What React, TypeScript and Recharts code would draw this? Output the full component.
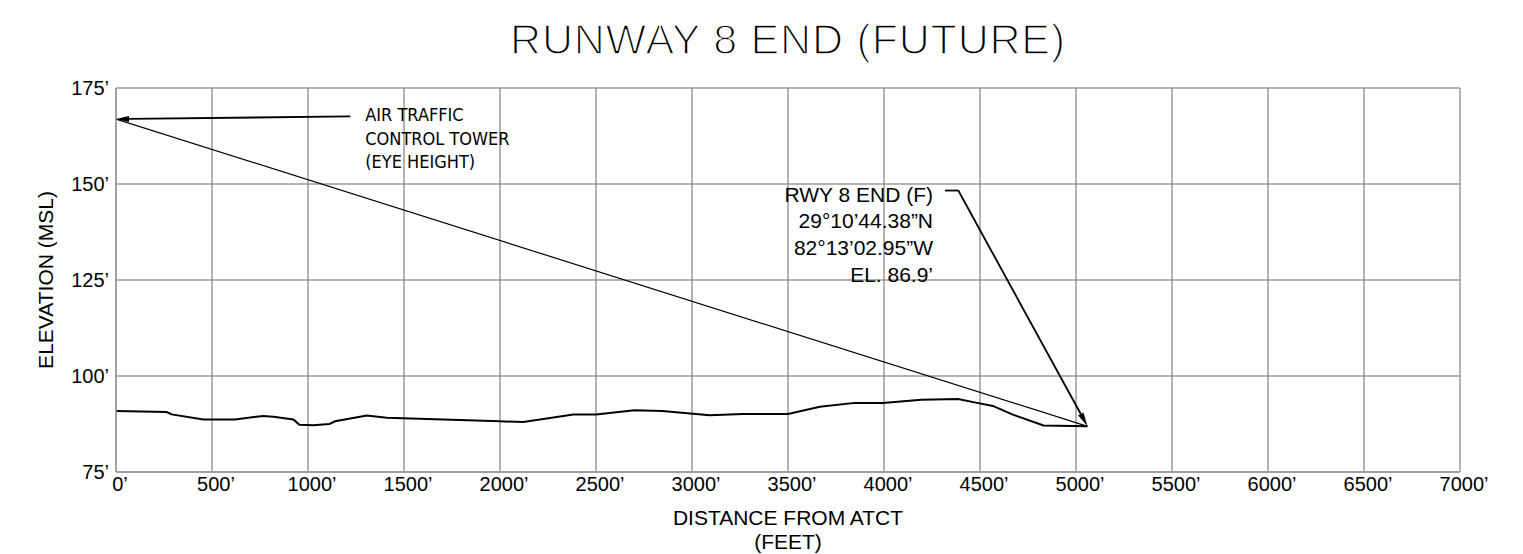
import { LineChart, Line, XAxis, YAxis, CartesianGrid, ReferenceLine, ReferenceDot } from 'recharts';

// Distance from ATCT (ft) and ground elevation (ft MSL) along the sight line
const distanceFt = [0, 264, 290, 455, 620, 767, 820, 924, 955, 1028, 1111, 1141, 1306, 1410, 2000, 2121, 2382, 2500, 2700, 2846, 3092, 3265, 3500, 3666, 3848, 3994, 4194, 4385, 4485, 4567, 4668, 4831, 5060];
const groundElev = [90.9, 90.6, 90.0, 88.7, 88.7, 89.6, 89.4, 88.7, 87.3, 87.2, 87.5, 88.2, 89.7, 89.1, 88.2, 88.0, 90.0, 90.0, 91.1, 90.9, 89.8, 90.1, 90.1, 92.0, 93.0, 93.0, 93.8, 94.0, 93.0, 92.2, 90.0, 87.1, 86.9];

// line of sight: tower eye height -> runway end
const sightDist = [0, 5060];
const sightElev = [166.9, 86.9];

const xTicks = [0, 500, 1000, 1500, 2000, 2500, 3000, 3500, 4000, 4500, 5000, 5500, 6000, 6500, 7000];
const yTicks = [75, 100, 125, 150, 175];

const towerLabel = ['AIR TRAFFIC', 'CONTROL TOWER', '(EYE HEIGHT)'];
const rwyLabel = ['RWY 8 END (F)', '29°10’44.38”N', '82°13’02.95”W', 'EL. 86.9’'];

// leader arrows (data coords)
const towerArrowFrom = { x: 1220, y: 167.6 };
const towerArrowTo = { x: 0, y: 166.9 };
const rwyLeaderFrom = { x: 4318, y: 148.3 };
const rwyLeaderBend = { x: 4387, y: 148.3 };
const rwyArrowTo = { x: 5060, y: 86.9 };

const FONT = '"Liberation Sans", Arial, sans-serif';
const NARROW = '"Liberation Sans Narrow", "DejaVu Sans Condensed", sans-serif';
const GRID = '#9a9a9a';

const ground = distanceFt.map((d, i) => ({ x: d, y: groundElev[i] }));
const sight = sightDist.map((d, i) => ({ x: d, y: sightElev[i] }));

const XTick = ({ x, y, payload }: any) => (
  <text x={x + 4} y={y + 19} textAnchor="middle" fontSize={20} fontFamily={FONT} fill="#000">
    {payload.value}’
  </text>
);

const YTick = ({ x, y, payload }: any) => (
  <text x={x - 7} y={y + 7} textAnchor="end" fontSize={20} fontFamily={FONT} fill="#000">
    {payload.value}’
  </text>
);

const arrow = (len: number, half: number, width: number) => (p: any) => {
  const { x1, y1, x2, y2 } = p;
  const a = Math.atan2(y2 - y1, x2 - x1);
  const bx = x2 - len * Math.cos(a);
  const by = y2 - len * Math.sin(a);
  const nx = -Math.sin(a) * half;
  const ny = Math.cos(a) * half;
  return (
    <g>
      <line x1={x1} y1={y1} x2={bx} y2={by} stroke="#000" strokeWidth={width} />
      <polygon points={`${x2},${y2} ${bx + nx},${by + ny} ${bx - nx},${by - ny}`} fill="#000" />
    </g>
  );
};

const TextBlock = ({ viewBox, lines, dx, dy, step, size, anchor, family }: any) => {
  const { x, y } = viewBox;
  return (
    <text fontSize={size} fontFamily={family} fill="#000" textAnchor={anchor}>
      {lines.map((t: string, i: number) => (
        <tspan key={i} x={x + dx} y={y + dy + i * step}>{t}</tspan>
      ))}
    </text>
  );
};

export default function App() {
  return (
    <div style={{ position: 'absolute', left: 0, top: 0, width: 1523, height: 554, background: '#fff' }}>
      <div
        style={{
          position: 'absolute',
          left: 288,
          width: 1000,
          top: 18,
          textAlign: 'center',
          fontFamily: FONT,
          fontSize: 43,
          lineHeight: '43px',
          letterSpacing: 0.8,
          color: '#000',
          WebkitTextStroke: '1.6px #fff',
        }}
      >
        RUNWAY 8 END (FUTURE)
      </div>
      <LineChart width={1523} height={554} margin={{ top: 88, right: 63, left: 0, bottom: 0 }}>
        <CartesianGrid stroke={GRID} strokeWidth={1.5} />
        <XAxis
          type="number"
          dataKey="x"
          domain={[0, 7000]}
          ticks={xTicks}
          allowDataOverflow
          height={82}
          tickSize={0}
          tickMargin={0}
          axisLine={{ stroke: GRID, strokeWidth: 1.5 }}
          tick={<XTick />}
          label={{
            content: (p: any) => (
              <text fontSize={21} fontFamily={FONT} fill="#000" textAnchor="middle">
                <tspan x={p.viewBox.x + p.viewBox.width / 2} y={p.viewBox.y + 53}>DISTANCE FROM ATCT</tspan>
                <tspan x={p.viewBox.x + p.viewBox.width / 2} y={p.viewBox.y + 77}>(FEET)</tspan>
              </text>
            ),
          }}
        />
        <YAxis
          type="number"
          dataKey="y"
          domain={[75, 175]}
          ticks={yTicks}
          allowDataOverflow
          width={116}
          tickSize={0}
          tickMargin={0}
          axisLine={{ stroke: GRID, strokeWidth: 1.5 }}
          tick={<YTick />}
          label={{
            content: (p: any) => {
              const cx = 53;
              const cy = p.viewBox.y + p.viewBox.height / 2;
              return (
                <text x={cx} y={cy} transform={`rotate(-90 ${cx} ${cy})`} fontSize={21} fontFamily={FONT} fill="#000" textAnchor="middle">
                  ELEVATION (MSL)
                </text>
              );
            },
          }}
        />
        <Line data={ground} dataKey="y" stroke="#000" strokeWidth={2} dot={false} isAnimationActive={false} />
        <Line data={sight} dataKey="y" stroke="#000" strokeWidth={1.2} dot={false} isAnimationActive={false} />
        <ReferenceLine
          segment={[towerArrowFrom, towerArrowTo]}
          shape={arrow(13, 3, 1.8)}
        />
        <ReferenceLine
          segment={[rwyLeaderFrom, rwyLeaderBend]}
          stroke="#000"
          strokeWidth={1.8}
        />
        <ReferenceLine
          segment={[rwyLeaderBend, rwyArrowTo]}
          shape={arrow(14, 3, 1.8)}
        />
        <ReferenceDot
          x={towerArrowFrom.x}
          y={towerArrowFrom.y}
          r={0}
          stroke="none"
          label={{
            content: (p: any) => (
              <TextBlock {...p} lines={towerLabel} dx={15} dy={5} step={23.5} size={18} anchor="start" family={NARROW} />
            ),
          }}
        />
        <ReferenceDot
          x={rwyLeaderFrom.x}
          y={rwyLeaderFrom.y}
          r={0}
          stroke="none"
          label={{
            content: (p: any) => (
              <TextBlock {...p} lines={rwyLabel} dx={-12} dy={11} step={26.7} size={21} anchor="end" family={FONT} />
            ),
          }}
        />
      </LineChart>
    </div>
  );
}
